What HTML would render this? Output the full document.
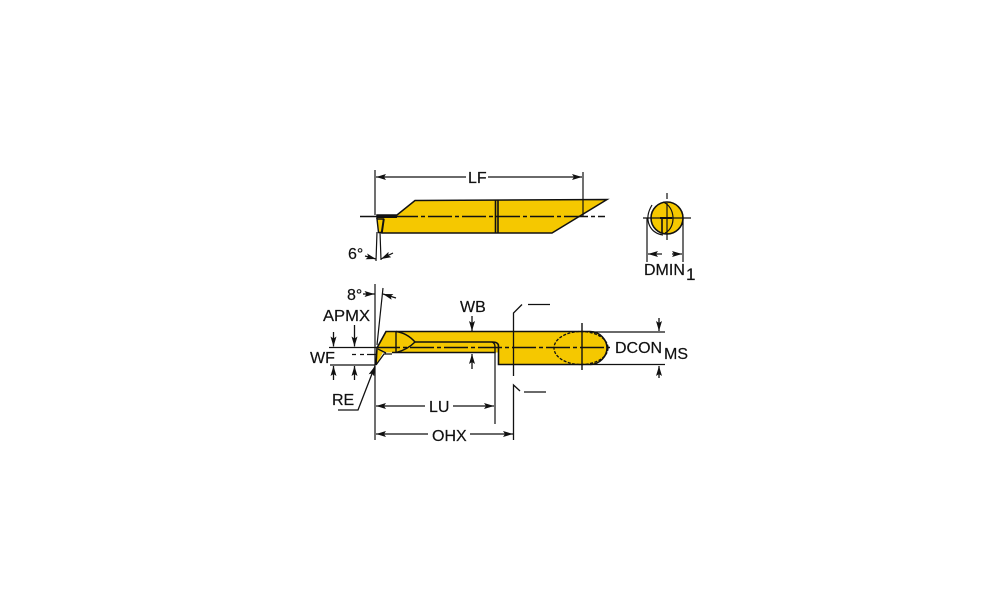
<!DOCTYPE html>
<html><head><meta charset="utf-8"><style>
html,body{margin:0;padding:0;background:#fff}
svg{display:block}
text{font-family:"Liberation Sans",sans-serif;font-size:16px;fill:#111;stroke:#111;stroke-width:.2}
</style></head><body>
<svg width="1000" height="611" viewBox="0 0 1000 611" xmlns="http://www.w3.org/2000/svg">
<defs>
<marker id="a" viewBox="0 0 10 6" refX="10" refY="3" markerWidth="10" markerHeight="6" orient="auto-start-reverse" markerUnits="userSpaceOnUse"><path d="M0 0L10 3L0 6L2 3Z" fill="#111"/></marker>
</defs>
<rect width="1000" height="611" fill="#fff"/>

<!-- top view -->
<g stroke="#111" stroke-width="1.4" fill="none">
<path d="M377 215H397L415 200.500L607 199.500L552 233H382L384 219H377Z" fill="#f5c800" stroke="none"/>
<path d="M377 219H383.500L381.500 232.500H378.500Z" fill="#f5c800"/>
<path d="M384 233L382 233L384 219M384 233H552L607 199.500L415 200.500L397 215H377L377 219" stroke-width="1.5"/>
<path d="M377 216.500H397" stroke-width="3"/>
<path d="M495.500 200.500V233M498 200.500V233" stroke-width="1.6"/>
<path d="M360 216.500H605" stroke-dasharray="24 3 4 3"/>
<path d="M375 170V215M583 172V216M377 232L376 261M380 232L381 260" stroke-width="1.2"/>
<path d="M376 177H466M488 177H582" marker-start="url(#a)" marker-end="url(#a)" stroke-width="1.2"/>
<path d="M365 256L376 259" marker-end="url(#a)" stroke-width="1.2"/>
<path d="M393 253L381 259" marker-end="url(#a)" stroke-width="1.2"/>
</g>

<!-- end view -->
<g stroke="#111" stroke-width="1.2" fill="none">
<circle cx="667" cy="218" r="16" fill="#f5c800" stroke-width="1.6"/>
<path d="M643 218H691M667 193V199M667 203V240M647 218V262M683 218V262"/>
<path d="M663 202C676 207 676 228 665 233"/>
<path d="M652 205C643 220 650 233 663 235"/>
<path d="M662 218V233" stroke-width="1.6"/>
<path d="M660 218H672" stroke-width="2"/>
<path d="M662 254H648" marker-end="url(#a)"/>
<path d="M672 254H682" marker-end="url(#a)"/>
</g>

<!-- bottom view -->
<g stroke="#111" stroke-width="1.3" fill="none">
<path d="M386 331.500H590C600 331.500 607 340 607 348C607 356 600 364.500 590 364.500H498.500V352.500H383L376 365L377 348Z" fill="#f5c800" stroke="none"/>
<path d="M376 365L377 348L386 331.500H590C600 331.500 607 340 607 348C607 356 600 364.500 590 364.500H498.500V346Q498.500 342 492 342H415" stroke-width="1.6"/>
<path d="M495 347V352.500H392M495 347Q495 343 492 342" stroke-width="1.4"/>
<path d="M376 365L384 354H392M378 349L386 353" stroke-width="1.3"/>
<path d="M396 331V352.500M396 331.500Q407 333 415 342Q407 350 396 352.500" stroke-width="1.4"/>
<path d="M495 352V424" stroke-width="1.2"/>
<ellipse cx="581" cy="348" rx="27" ry="16.500" stroke-dasharray="3 1.500"/>
<path d="M376 347.500H610" stroke-dasharray="24 3 4 3" stroke-width="1.4"/>
<path d="M582 323V370" stroke-width="1.4"/>
<path d="M513.500 376V326V313L522 304.500M528 304.500H550M513.500 440V385L520 391M524 392H546" stroke-width="1.3"/>
<path d="M590 332H665M590 364.500H665" stroke-width="1.2"/>
<path d="M659 318V331" marker-end="url(#a)"/>
<path d="M659 378V366" marker-end="url(#a)"/>
<path d="M375 284V440" stroke-width="1.2"/>
<path d="M377 345L383 288" stroke-width="1.2"/>
<path d="M329 347.500H376M330 365H375" stroke-width="1.2"/>
<path d="M352 354.500H356M360 354.500H364M367 354.500H376" stroke-width="1.2"/>
<path d="M333.500 332V346.500" marker-end="url(#a)"/>
<path d="M333.500 380V366" marker-end="url(#a)"/>
<path d="M354.500 325V346.500" marker-end="url(#a)"/>
<path d="M354.500 380V366" marker-end="url(#a)"/>
<path d="M472 316V331" marker-end="url(#a)"/>
<path d="M472 369V354" marker-end="url(#a)"/>
<path d="M363 294H374.500" marker-end="url(#a)"/>
<path d="M396 298L383 294" marker-end="url(#a)"/>
<path d="M376 406H425M453 406H494" marker-start="url(#a)" marker-end="url(#a)"/>
<path d="M376 434H428M470 434H513" marker-start="url(#a)" marker-end="url(#a)"/>
<path d="M338 410H358L375 366" marker-end="url(#a)"/>
</g>

<!-- labels -->
<text x="468" y="183">LF</text>
<text x="348" y="259">6°</text>
<text x="644" y="275">DMIN</text>
<text x="686" y="280" style="font-size:17px">1</text>
<text x="347" y="300">8°</text>
<text x="460" y="312">WB</text>
<text x="323" y="321" textLength="47" lengthAdjust="spacingAndGlyphs">APMX</text>
<text x="310" y="363">WF</text>
<text x="332" y="405">RE</text>
<text x="429" y="412">LU</text>
<text x="432" y="441">OHX</text>
<text x="615" y="353">DCON</text>
<text x="664" y="359">MS</text>
</svg>
</body></html>
